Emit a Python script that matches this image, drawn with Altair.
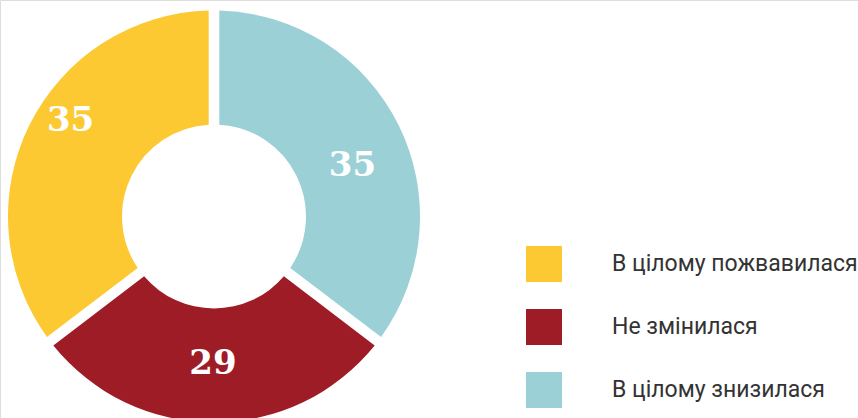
import altair as alt
import pandas as pd

categories = ["В цілому пожвавилася", "Не змінилася", "В цілому знизилася"]
values = [35, 29, 35]
colors = ["#FDC933", "#9E1C26", "#9BD1D6"]
draw_order = [2, 1, 0]
label_dx = [-9, -1, 4]
label_dy = [-29, -3, 16]

df = pd.DataFrame({
    "cat": categories,
    "val": values,
    "ord": draw_order,
    "label": [str(v) for v in values],
})

center = dict(x=alt.value(214), y=alt.value(216.5))

arcs = alt.Chart(df).mark_arc(innerRadius=92, outerRadius=206, padAngle=0.047).encode(
    theta=alt.Theta("val:Q", stack=True),
    order=alt.Order("ord:Q"),
    color=alt.Color(
        "cat:N",
        scale=alt.Scale(domain=categories, range=colors),
        sort=categories,
        legend=alt.Legend(
            title=None,
            orient="none",
            legendX=526,
            legendY=246,
            symbolType="square",
            symbolSize=1296,
            symbolStrokeWidth=0,
            labelFont="Roboto",
            labelFontSize=23,
            labelColor="#333333",
            labelOffset=50,
            labelLimit=400,
            rowPadding=27,
            padding=0,
            offset=0,
        ),
    ),
    **center,
)

layers = [arcs]
for i, c in enumerate(categories):
    t = (
        alt.Chart(df)
        .transform_window(cum="sum(val)", sort=[alt.SortField("ord")], frame=[None, 0])
        .transform_calculate(mid="datum.cum - datum.val / 2")
        .transform_filter(alt.datum.cat == c)
        .mark_text(
            radius=150,
            font="DejaVu Serif",
            fontWeight="bold",
            fontSize=34,
            color="white",
            align="center",
            baseline="middle",
            dx=label_dx[i],
            dy=label_dy[i],
        )
        .encode(theta=alt.Theta("mid:Q", stack=None), text="label:N", **center)
    )
    layers.append(t)

chart = alt.layer(*layers).properties(
    width=858, height=418, autosize=alt.AutoSizeParams(type="none"), padding=0
).configure_view(stroke=None).configure(background="white")

chart.save("out.html", embed_options={"renderer": "svg", "actions": False})
